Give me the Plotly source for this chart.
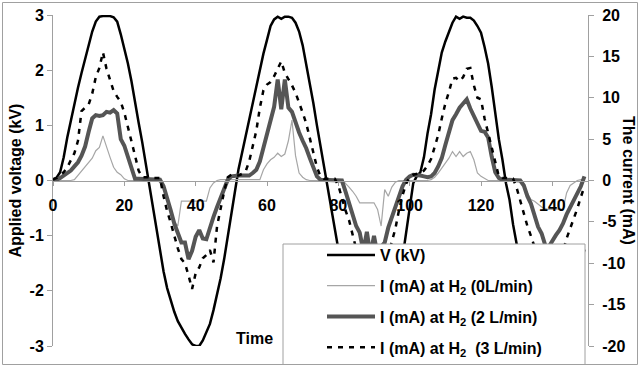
import plotly.graph_objects as go

# ---- data ----
time = list(range(150))

voltage_kv = [
    0.02, 0.05, 0.15, 0.42, 0.78, 1.1, 1.42, 1.68, 1.95, 2.2,
    2.45, 2.7, 2.88, 2.97, 2.98, 2.98, 2.98, 2.96, 2.88, 2.65,
    2.4, 2.12, 1.8, 1.4, 1.05, 0.7, 0.3, -0.05, -0.45, -0.9,
    -1.3, -1.65, -1.95, -2.18, -2.38, -2.55, -2.68, -2.78, -2.88, -2.97,
    -3.0, -3.0, -2.9, -2.75, -2.6, -2.35, -2.08, -1.77, -1.42, -1.0,
    -0.58, -0.2, 0.2, 0.5, 0.8, 1.1, 1.4, 1.72, 2.02, 2.3,
    2.55, 2.8, 2.92, 2.97, 2.93, 2.97, 2.97, 2.95, 2.86, 2.7,
    2.45, 2.12, 1.78, 1.4, 1.0, 0.62, 0.28, -0.1, -0.45, -0.85,
    -1.25, -1.62, -1.93, -2.17, -2.38, -2.55, -2.68, -2.8, -2.9, -2.97,
    -3.0, -2.98, -2.9, -2.75, -2.6, -2.35, -2.08, -1.77, -1.4, -0.98,
    -0.5, -0.05, 0.08, 0.15, 0.42, 0.85, 1.2, 1.65, 2.02, 2.32,
    2.52, 2.7, 2.86, 2.97, 2.93, 2.97, 2.95, 2.95, 2.9, 2.8,
    2.68, 2.42, 2.12, 1.7, 1.2, 0.75, 0.38, -0.05, -0.35, -0.8,
    -1.15, -1.55, -1.9, -2.15, -2.38, -2.55, -2.68, -2.8, -2.9, -2.97,
    -3.0, -2.98, -2.9, -2.78, -2.6, -2.38, -2.1, -1.8, -1.5, -1.25,
]

current_0 = [
    0, 0, 0, 0, 0, 0, 0.1, 0.6, 1.2, 1.6,
    2.1, 2.7, 3.6, 4.0, 5.4, 4.0, 2.8, 1.6, 1.0, 0.7,
    0.2, 0, 0, 0, 0, 0, 0, 0, 0, 0,
    -0.2, -0.8, -2.0, -3.4, -5.0, -5.5, -2.5, -2.5, -2.5, -2.5,
    -2.5, -2.5, -2.5, -2.5, -0.9, -0.3, 0, 0.1, 0.1, 0.1,
    0.1, 0.1, 0.1, 0.1, 0.1, 0.1, 0.1, 0.1, 0.1, 1.3,
    2.0, 2.5, 2.8, 3.3, 2.9, 3.2, 4.8, 7.3, 3.0, 0.9,
    0.4, 0.1, 0, 0, 0, 0, 0, 0, 0, 0,
    0, 0.1, -0.3, -0.8, -1.3, -1.9, -2.7, -2.7, -2.7, -2.7,
    -2.7, -3.5, -5.5, -1.1, -1.9, -0.8, -0.2, 0, 0, 0,
    0, 0, 0, 0, 0, 0, 0.1, 0.4, 0.9, 1.5,
    2.1, 2.7, 3.5, 2.9, 3.5, 2.9, 3.3, 3.5, 2.5, 0.9,
    0.5, 0.3, 0, 0, 0, 0, 0, 0, 0, 0,
    0, -0.1, -0.6, -1.5, -2.3, -2.5, -2.9, -3.2, -3.4, -3.5,
    -3.5, -3.5, -3.4, -3.5, -1.5, -0.6, -0.3, 0, 0.1, 0.1,
]

current_2 = [
    0.1, 0.1, 0.3, 0.6, 0.9, 1.2, 1.7, 2.2, 3.0, 4.1,
    5.9, 7.5, 7.9, 7.8, 7.9, 8.3, 8.2, 8.5, 8.1, 5.0,
    4.2, 2.8, 1.4, 0.2, 0.2, 0.2, 0.2, 0.2, 0.1, 0.1,
    0.1, -0.7, -2.0, -3.6, -5.2, -6.2, -7.5, -7.5, -9.5, -8.5,
    -6.8, -6.0, -7.0, -7.1, -5.6, -4.4, -3.2, -2.1, -1.0, 0.1,
    0.5, 0.6, 0.6, 0.6, 0.6, 0.6, 0.9, 1.3, 2.3, 4.0,
    5.7, 7.3, 8.9, 12.2, 8.6, 12.2, 8.8, 8.3, 7.0, 5.8,
    4.8, 3.9, 2.7, 1.6, 0.5, 0.1, 0.1, 0, 0, 0,
    0, 0, -1.3, -2.8, -4.2, -5.5, -6.3, -8.5, -6.2, -9.0,
    -6.7, -9.0, -8.0, -7.5, -5.7, -4.4, -3.0, -1.9, -0.7, 0.1,
    0.5, 0.7, 0.7, 0.6, 0.5, 0.4, 0.5, 0.9, 1.7, 2.7,
    4.3, 5.8, 7.3, 8.0, 8.8, 9.3, 9.8, 8.7, 7.8, 6.9,
    6.0, 5.9, 5.2, 2.9, 1.0, 0.3, 0.1, 0.1, 0.1, 0,
    0, 0, -0.6, -1.9, -2.8, -4.3, -5.6, -6.4, -7.8, -8.0,
    -7.2, -6.6, -6.0, -5.2, -4.1, -3.3, -2.3, -1.5, -0.7, 0.5,
]

current_3 = [
    0.1, 0.3, 0.6, 1.0, 1.6, 2.4, 3.3, 4.8, 8.4, 8.8,
    9.2, 10.5, 12.5, 13.6, 15.5, 13.5, 12.2, 10.8, 10.1, 9.5,
    8.2, 6.5, 5.0, 3.0, 1.2, 0.4, 0.4, 0.4, 0.3, 0.3,
    0.3, -1.9, -3.7, -5.1, -6.7, -8.2, -9.5, -10.0, -11.5, -13.1,
    -11.2, -10.5, -9.4, -9.0, -8.4, -9.9, -5.5, -3.3, -1.3, 0.4,
    0.7, 0.7, 0.6, 0.8, 1.1, 2.3, 4.0, 6.0, 8.8, 10.9,
    11.6, 11.9, 12.6, 13.5, 14.4, 13.0, 12.3, 11.5, 10.6, 9.5,
    8.2, 6.9, 5.2, 3.5, 1.6, 0.5, 0.2, 0.2, 0.2, 0.2,
    -0.6, -2.2, -3.6, -4.8, -6.5, -8.5, -10.0, -11.0, -12.0, -12.5,
    -12.0, -11.5, -10.5, -10.0, -9.0, -7.5, -5.8, -3.6, -1.8, -0.4,
    0.4, 0.7, 0.8, 0.9, 1.2, 1.8, 2.6, 4.0, 5.5, 7.5,
    9.3, 10.7, 12.3, 12.4, 12.0, 12.5, 13.5, 13.6, 11.5, 10.0,
    9.8, 7.5, 5.7, 4.0, 2.0, 0.5, 0.3, 0.3, 0.2, 0.2,
    -0.9, -2.5, -3.9, -5.5, -6.7, -8.0, -9.0, -10.0, -11.0, -12.0,
    -11.5, -10.5, -9.5, -8.5, -7.0, -5.8, -4.8, -3.4, -2.0, -0.7,
]

series_names = [
    "V (kV)",
    "I (mA) at H<sub>2</sub> (0L/min)",
    "I (mA) at H<sub>2</sub> (2 L/min)",
    "I (mA) at H<sub>2</sub>  (3 L/min)",
]

x_tick_vals = [0, 20, 40, 60, 80, 100, 120, 140]
x_tick_text = ["0", "20", "40", "60", "80", "100", "120", "140"]
v_tick_vals = [-3, -2, -1, 0, 1, 2, 3]
v_tick_text = ["-3", "-2", "-1", "0", "1", "2", "3"]
i_tick_vals = [-20, -15, -10, -5, 0, 5, 10, 15, 20]
i_tick_text = ["-20", "-15", "-10", "-5", "0", "5", "10", "15", "20"]

# ---- figure ----
FONT = "Arial, 'Liberation Sans', Helvetica, sans-serif"
GRAY = "#a0a0a0"
bold16 = dict(family=FONT, size=16, color="#000000", weight="bold")

fig = go.Figure()
fig.add_trace(go.Scatter(x=time, y=voltage_kv, name=series_names[0], mode="lines",
                         line=dict(color="#000000", width=2.5), yaxis="y",
                         legendgroup="g1"))
fig.add_trace(go.Scatter(x=time, y=current_0, name=series_names[1], mode="lines",
                         line=dict(color="#a6a6a6", width=1.2), yaxis="y2",
                         legendgroup="g2"))
fig.add_trace(go.Scatter(x=time, y=current_2, name=series_names[2], mode="lines",
                         line=dict(color="#555555", width=4), yaxis="y2",
                         legendgroup="g3"))
fig.add_trace(go.Scatter(x=time, y=current_3, name=series_names[3], mode="lines",
                         line=dict(color="#000000", width=2.5, dash="5px,6px"), yaxis="y2",
                         legendgroup="g4"))

# plot area: x 53..588, y 15..346 of 640x368
L, R, T, B = 53, 52, 15, 22
PW, PH = 640 - L - R, 368 - T - B


def px_x(px):
    return (px - L) / PW


def px_y(py):
    return (368 - B - py) / PH


fig.update_layout(
    width=640, height=368, autosize=False,
    margin=dict(l=L, r=R, t=T, b=B, pad=0, autoexpand=False),
    paper_bgcolor="white", plot_bgcolor="white",
    font=dict(family=FONT, size=16, color="#000000"),
    showlegend=True,
    legend=dict(
        x=px_x(322), y=px_y(238), xanchor="left", yanchor="top",
        bgcolor="rgba(0,0,0,0)", borderwidth=0,
        traceorder="grouped", tracegroupgap=7, itemwidth=48,
        font=bold16,
    ),
    xaxis=dict(
        range=[0, 150], tickmode="array", tickvals=x_tick_vals, ticktext=x_tick_text,
        ticks="outside", ticklen=4, tickcolor=GRAY, tickwidth=1,
        showline=True, linecolor=GRAY, linewidth=1,
        showgrid=False, zeroline=False, automargin=False,
        anchor="free", position=px_y(181),
        tickfont=bold16, ticklabelstandoff=6,
    ),
    yaxis=dict(
        range=[-3, 3], tickmode="array", tickvals=v_tick_vals, ticktext=v_tick_text,
        ticks="outside", ticklen=5, tickcolor=GRAY,
        showline=True, linecolor=GRAY, linewidth=1,
        showgrid=False, zeroline=False, automargin=False,
        tickfont=bold16,
        title=dict(text="Applied voltage (kV)", font=bold16, standoff=3),
    ),
    yaxis2=dict(
        range=[-20, 20], tickmode="array", tickvals=i_tick_vals, ticktext=i_tick_text,
        overlaying="y", side="right", anchor="x",
        ticks="outside", ticklen=5, tickcolor=GRAY,
        showline=True, linecolor=GRAY, linewidth=1,
        showgrid=False, zeroline=False, automargin=False,
        tickfont=bold16, ticklabelstandoff=5,
    ),
    shapes=[
        # outer chart frame
        dict(type="rect", xref="paper", yref="paper",
             x0=px_x(2.5), x1=px_x(637.5), y0=px_y(364.5), y1=px_y(2.5),
             line=dict(color=GRAY, width=1), fillcolor="rgba(0,0,0,0)", layer="above"),
        # legend box
        dict(type="rect", xref="paper", yref="paper",
             x0=px_x(283), x1=px_x(585), y0=px_y(364.5), y1=px_y(244),
             line=dict(color=GRAY, width=1), fillcolor="white", layer="above"),
    ],
    annotations=[
        dict(text="Time", xref="paper", yref="paper", x=px_x(254), y=px_y(338),
             xanchor="center", yanchor="middle", showarrow=False, font=bold16),
        dict(text="The current (mA)", xref="paper", yref="paper", x=px_x(629), y=px_y(180),
             xanchor="center", yanchor="middle", textangle=90, showarrow=False, font=bold16),
    ],
)

fig.write_html(
    "out.html",
    config={"displayModeBar": False},
    post_script="document.body.style.margin='0px';document.body.style.padding='0px';",
)
